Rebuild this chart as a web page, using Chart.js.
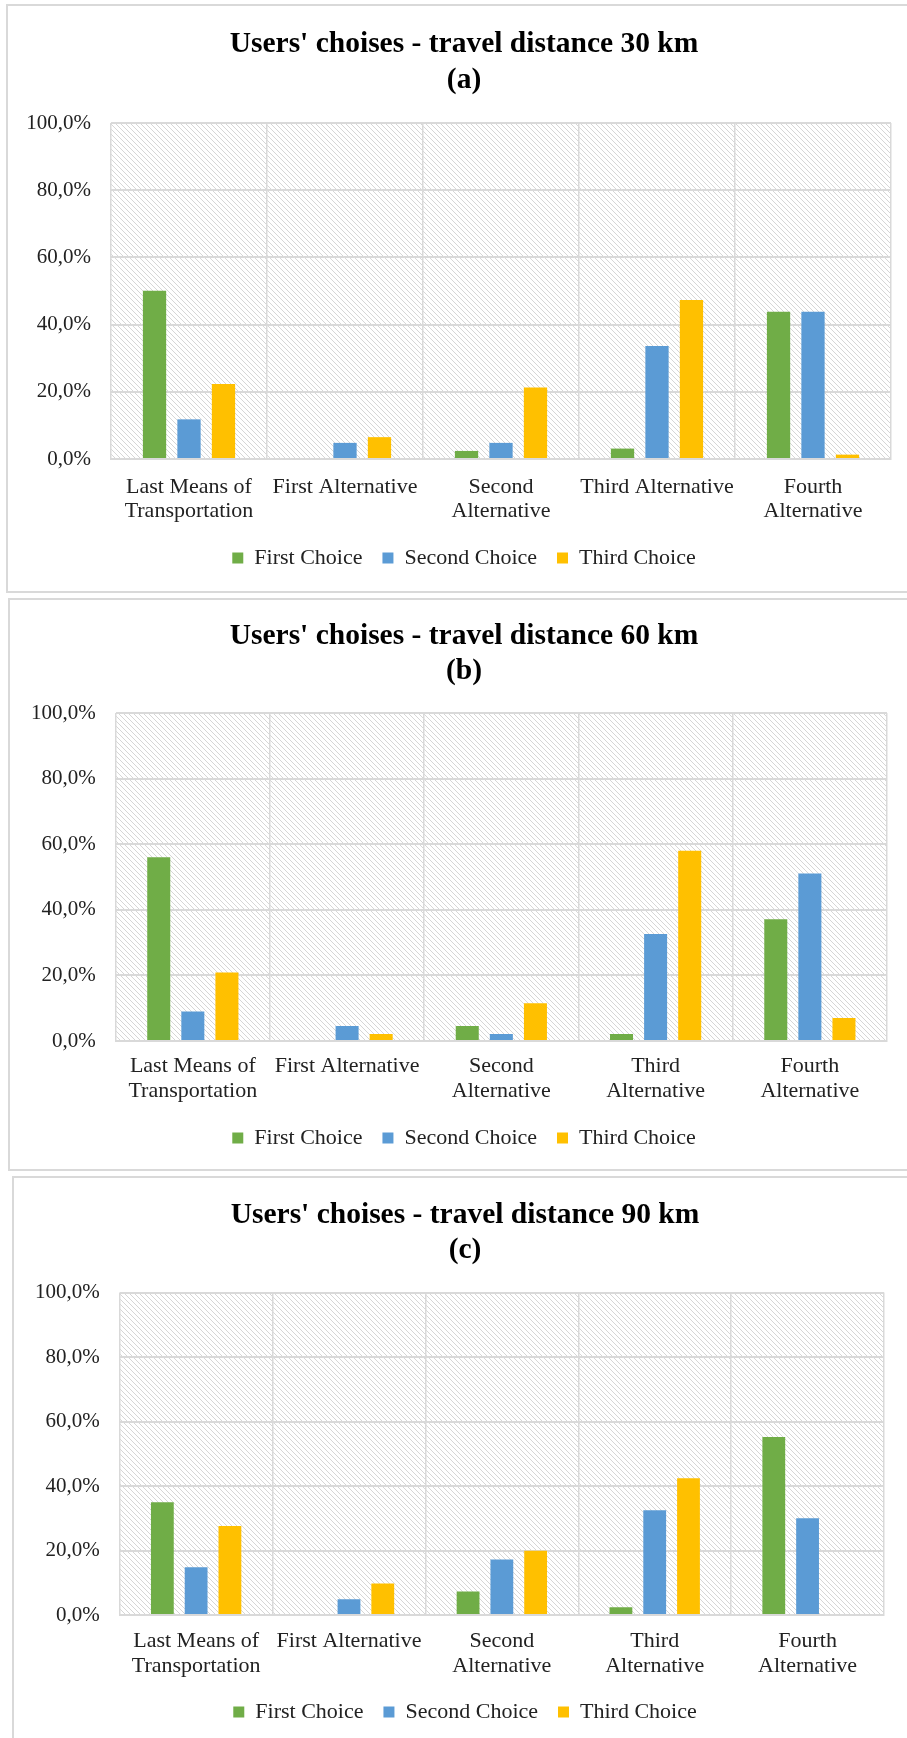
<!DOCTYPE html>
<html lang="en">
<head>
<meta charset="UTF-8">
<title>Users' choises - travel distance</title>
<script src="https://cdn.jsdelivr.net/npm/chart.js@4.4.1/dist/chart.umd.min.js"></script>
<style>
    html, body {
        margin: 0;
        padding: 0;
        background: #fff;
        width: 907px;
        height: 1738px;
        overflow: hidden;
    }
    .panel {
        position: absolute;
        border: 2px solid #d9d9d9;
        background: #fff;
    }
    canvas {
        display: block;
    }
</style>
</head>
<body>

<div class="panel" style="left:6px; top:4px; width:930px; height:585px;">
    <canvas id="chart30"></canvas>
</div>
<div class="panel" style="left:8px; top:598px; width:930px; height:569px;">
    <canvas id="chart60"></canvas>
</div>
<div class="panel" style="left:12px; top:1176px; width:930px; height:600px;">
    <canvas id="chart90"></canvas>
</div>

<script>
    // Categories (the 30 km chart keeps "Third Alternative" on one line)
    const categories30 = [['Last Means of', 'Transportation'], 'First Alternative', ['Second', 'Alternative'], 'Third Alternative', ['Fourth', 'Alternative']];
    const categories = [['Last Means of', 'Transportation'], 'First Alternative', ['Second', 'Alternative'], ['Third', 'Alternative'], ['Fourth', 'Alternative']];

    const seriesNames = ['First Choice', 'Second Choice', 'Third Choice'];
    const seriesColors = ['#70AD47', '#5B9BD5', '#FFC000'];
    const yTicks = [0, 20, 40, 60, 80, 100];

    // Shares of users (%) - 30 km
    const first30 = [50.1, 0, 2.4, 3.1, 43.8];
    const second30 = [11.8, 4.8, 4.8, 33.6, 43.8];
    const third30 = [22.3, 6.5, 21.3, 47.3, 1.3];

    // 60 km
    const first60 = [56.0, 0, 4.6, 2.1, 37.1];
    const second60 = [9.0, 4.6, 2.1, 32.6, 51.1];
    const third60 = [20.9, 2.1, 11.5, 58.0, 7.0];

    // 90 km
    const first90 = [35.0, 0, 7.3, 2.4, 55.2];
    const second90 = [14.8, 4.9, 17.2, 32.5, 30.0];
    const third90 = [27.6, 9.8, 19.9, 42.4, 0];

    const GRID = '#d9d9d9';
    const TEXT = '#222';
    const FONT = "'Liberation Serif', 'Times New Roman', serif";

    // diagonal hatch behind the plot area
    function makeHatch(ctx) {
        const tile = document.createElement('canvas');
        tile.width = 5;
        tile.height = 5;
        const t = tile.getContext('2d');
        t.strokeStyle = '#d6d6d6';
        t.lineWidth = 1;
        t.beginPath();
        t.moveTo(-1, -1); t.lineTo(6, 6);
        t.moveTo(-1, 4); t.lineTo(1, 6);
        t.moveTo(4, -1); t.lineTo(6, 1);
        t.stroke();
        return ctx.createPattern(tile, 'repeat');
    }

    const hatchPlugin = {
        id: 'hatch',
        // the y labels are wider than the axis box; let them reach into the left padding
        afterLayout(chart) {
            chart.scales.y.left = 0;
        },
        beforeDraw(chart) {
            const {ctx, chartArea: a} = chart;
            ctx.save();
            ctx.fillStyle = makeHatch(ctx);
            ctx.fillRect(a.left, a.top, a.right - a.left, a.bottom - a.top);
            ctx.restore();
        }
    };

    function percentLabel(v) {
        return v.toFixed(1).replace('.', ',') + '%';
    }

    function makeChart(id, title, labels, values, box) {
        const canvas = document.getElementById(id);
        canvas.width = box.width;
        canvas.height = box.height;
        canvas.style.width = box.width + 'px';
        canvas.style.height = box.height + 'px';

        return new Chart(canvas.getContext('2d'), {
            type: 'bar',
            data: {
                labels: labels,
                datasets: values.map((data, i) => ({
                    label: seriesNames[i],
                    data: data,
                    backgroundColor: seriesColors[i],
                    borderWidth: 0,
                    categoryPercentage: 0.663,
                    barPercentage: 0.675
                }))
            },
            options: {
                responsive: false,
                animation: false,
                // same padding on both sides keeps title and legend centred on the frame
                layout: {
                    padding: {top: box.padTop, bottom: box.padBottom, left: box.padSide, right: box.padSide}
                },
                scales: {
                    x: {
                        grid: {color: GRID, lineWidth: 1.5, offset: true, drawTicks: false},
                        border: {color: GRID, width: 2},
                        ticks: {
                            color: TEXT,
                            font: {family: FONT, size: 22, lineHeight: box.xLine + 'px'},
                            padding: box.xPad,
                            maxRotation: 0,
                            autoSkip: false
                        },
                        afterFit: s => { s.height = box.xHeight; }
                    },
                    y: {
                        min: 0,
                        max: 100,
                        grid: {color: GRID, lineWidth: 2, drawTicks: false},
                        border: {display: false},
                        ticks: {
                            color: TEXT,
                            font: {family: FONT, size: 21},
                            padding: box.yPad,
                            callback: percentLabel
                        },
                        afterBuildTicks: s => { s.ticks = yTicks.map(v => ({value: v})); },
                        afterFit: s => { s.width = box.yWidth; }
                    }
                },
                plugins: {
                    title: {
                        display: true,
                        text: title,
                        color: '#000',
                        font: {family: FONT, size: 29.5, weight: 'bold', lineHeight: box.titleLine + 'px'},
                        padding: {top: 10, bottom: box.titleBottom}
                    },
                    legend: {
                        position: 'bottom',
                        labels: {
                            color: TEXT,
                            font: {family: FONT, size: 22},
                            boxWidth: 11,
                            boxHeight: 11,
                            padding: 20
                        }
                    },
                    tooltip: {enabled: false}
                }
            },
            plugins: [hatchPlugin]
        });
    }

    makeChart('chart30', ["Users' choises - travel distance 30 km", '(a)'], categories30,
        [first30, second30, third30],
        {width: 912, height: 585, padTop: 10, padBottom: 12, padSide: 29, titleLine: 36, titleBottom: 25,
         xLine: 24, xPad: 16, xHeight: 68, yWidth: 74, yPad: 20});

    makeChart('chart60', ["Users' choises - travel distance 60 km", '(b)'], categories,
        [first60, second60, third60],
        {width: 908, height: 569, padTop: 9, padBottom: 10, padSide: 31, titleLine: 35, titleBottom: 24,
         xLine: 25, xPad: 13, xHeight: 66, yWidth: 74.7, yPad: 20});

    makeChart('chart90', ["Users' choises - travel distance 90 km", '(c)'], categories,
        [first90, second90, third90],
        {width: 902, height: 560, padTop: 9.5, padBottom: 5, padSide: 32, titleLine: 35, titleBottom: 25,
         xLine: 25, xPad: 14, xHeight: 66, yWidth: 73.7, yPad: 20});
</script>
</body>
</html>
